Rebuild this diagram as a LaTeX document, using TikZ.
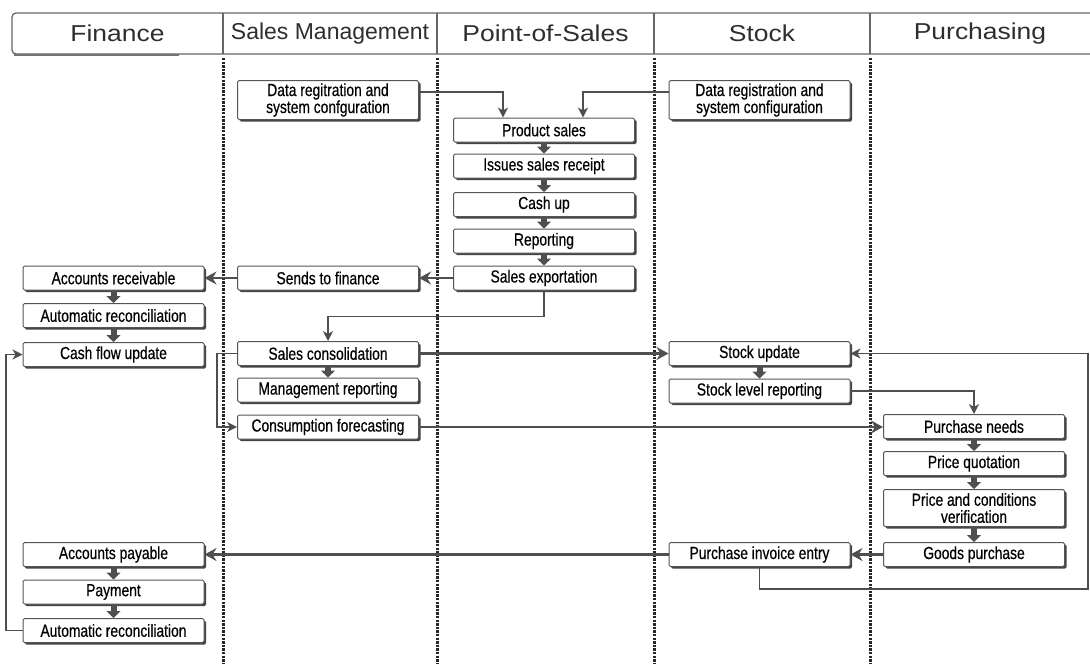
\documentclass[tikz,border=0pt]{standalone}
\usepackage{fontspec}
\setmainfont{Liberation Sans}
\newfontfamily\condfont[FakeStretch=0.79,FakeBold=0.4]{Liberation Sans}
\newfontfamily\headfont[FakeStretch=1.15]{Liberation Sans}
\newfontfamily\headfontn[FakeStretch=1.0]{Liberation Sans}
\usetikzlibrary{arrows.meta,shadows,calc}
\definecolor{ln}{HTML}{4F4F4F}
\definecolor{bd}{HTML}{555555}
\definecolor{sh}{HTML}{444444}
\begin{document}
\begin{tikzpicture}[x=1pt,y=-1pt,
  box/.style={draw=bd, line width=1pt, fill=white, rounded corners=1.5pt,
    minimum width=181pt, minimum height=24pt, inner sep=0pt, align=center,
    font=\condfont\fontsize{17.5}{17}\selectfont,
    drop shadow={shadow xshift=2pt, shadow yshift=-2pt, fill=sh, opacity=1}},
  lane/.style={draw=black!85, line width=3pt, dash pattern=on 2.4pt off 1.2pt},
  harr/.style={draw=ln, line width=2.8pt, -{Stealth[length=12pt,width=13pt,inset=4pt]}},
  tarr/.style={draw=ln, line width=1.4pt, -{Stealth[length=10pt,width=10pt,inset=3pt]}},
  varr/.style={draw=ln, line width=6pt, -{Triangle[length=7pt,width=14pt]}},
  hdr/.style={font=\headfont\fontsize{23}{23}\selectfont, text=black!82, inner sep=0pt},
  hline/.style={draw=black!60, line width=1.3pt}
]
\useasboundingbox (0,0) rectangle (1090,664);
% header
\draw[hline, rounded corners=4pt] (12,13) rectangle (1110,54);
\draw[black!55, line width=2.5pt] (14,55) -- (179,55);
\foreach \xx in {223,437,654,870} \draw[hline] (\xx,13) -- (\xx,54);
\node[hdr] (h1) at (117.5,33.5) {Finance};
\node[hdr, font=\headfontn\fontsize{23}{23}\selectfont] (h2) at (330,33.5) {Sales Management};
\node[hdr] (h3) at (545.5,33.5) {Point-of-Sales};
\node[hdr] (h4) at (762,33.5) {Stock};
\node[hdr] (h5) at (980,33.5) {Purchasing};
% lanes
\foreach \xx in {223,437,654,870} \draw[lane] (\xx,58) -- (\xx,664);
% Finance
\node[box] (ar) at (113.5,278) {Accounts receivable};
\node[box] (arc1) at (113.5,315.5) {Automatic reconciliation};
\node[box] (cfu) at (113.5,354.5) {Cash flow update};
\node[box] (ap) at (113.5,554.5) {Accounts payable};
\node[box] (pay) at (113.5,592) {Payment};
\node[box] (arc2) at (113.5,630.5) {Automatic reconciliation};
% Sales management
\node[box, minimum height=39pt] (dr1) at (328,100) {Data regitration and\\system confguration};
\node[box] (stf) at (328,278) {Sends to finance};
\node[box] (sc) at (328,353.5) {Sales consolidation};
\node[box] (mr) at (328,390) {Management reporting};
\node[box] (cf) at (328,427) {Consumption forecasting};
% POS
\node[box] (ps) at (544,130) {Product sales};
\node[box] (isr) at (544,166) {Issues sales receipt};
\node[box] (cu) at (544,204.5) {Cash up};
\node[box] (rep) at (544,241) {Reporting};
\node[box] (se) at (544,278) {Sales exportation};
% Stock
\node[box, minimum height=39pt] (dr2) at (759.5,100) {Data registration and\\system configuration};
\node[box] (su) at (759.5,353.5) {Stock update};
\node[box] (slr) at (759.5,391) {Stock level reporting};
\node[box] (pie) at (759.5,554.5) {Purchase invoice entry};
% Purchasing
\node[box] (pn) at (974,426.5) {Purchase needs};
\node[box] (pq) at (974,463.5) {Price quotation};
\node[box, minimum height=37pt] (pcv) at (974,508) {Price and conditions\\verification};
\node[box] (gp) at (974,554.5) {Goods purchase};
% connectors
\draw[tarr] ([yshift=8pt]dr1.east) -| ([xshift=-41pt]ps.north);
\draw[tarr] ([yshift=8pt]dr2.west) -| ([xshift=39pt]ps.north);
\foreach \a/\b in {ps/isr,isr/cu,cu/rep,rep/se,ar/arc1,arc1/cfu,sc/mr,su/slr,pn/pq,pq/pcv,pcv/gp,ap/pay,pay/arc2}
  \draw[varr] (\a.south) -- (\b.north);
\draw[harr] (se.west) -- (stf.east);
\draw[harr] (stf.west) -- (ar.east);
\draw[tarr] (se.south) -- ++(0,26) -| (sc.north);
\draw[harr] (sc.east) -- (su.west);
\draw[tarr] (sc.west) -- ++(-20,0) |- (cf.west);
\draw[harr] (cf.east) -- (cf.east -| pn.west);
\draw[tarr] (slr.east) -| (pn.north);
\draw[harr] (gp.west) -- (pie.east);
\draw[harr] (pie.west) -- (ap.east);
\coordinate (lr) at (1088,589);
\draw[tarr] (pie.south) |- (lr) |- (su.east);
\coordinate (ll) at (6,630.5);
\draw[tarr] (arc2.west) -- (ll) |- (cfu.west);
\end{tikzpicture}
\end{document}
